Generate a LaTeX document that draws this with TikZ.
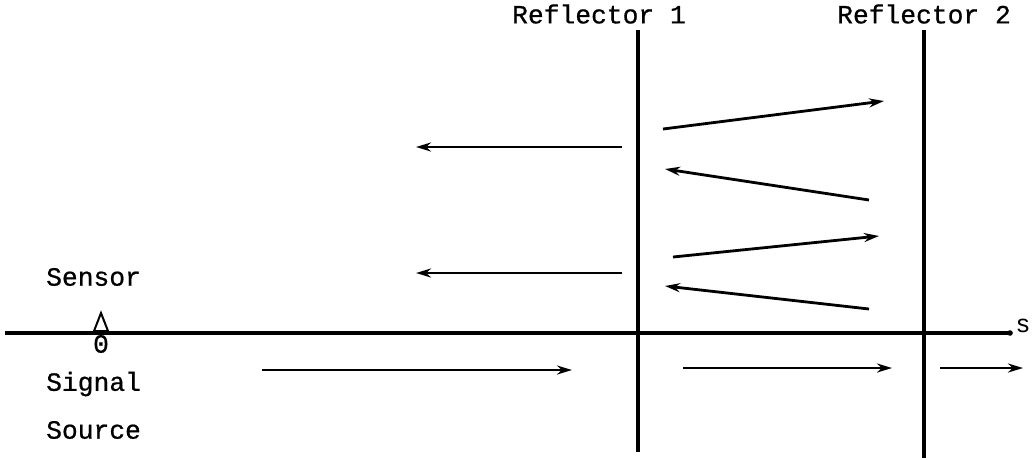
\documentclass[tikz,border=0pt]{standalone}
\usepackage{fontspec}
\newfontfamily\monof[FakeBold=0.7]{Liberation Mono}
\newfontfamily\sansf{Liberation Sans}
\usetikzlibrary{arrows.meta}
\begin{document}
\begin{tikzpicture}[x=1pt,y=-1pt,
  lbl/.style={font=\monof\fontsize{26.3}{28}\selectfont, inner sep=0pt},
  wave/.style={line width=2.8pt, -{Stealth[length=15pt,width=9pt]}},
  refl/.style={line width=3.8pt},
  axisline/.style={line width=3.2pt}]
\useasboundingbox (0,0) rectangle (1032,459);
% axis
\coordinate (a0) at (5,333);
\coordinate (a1) at (1010,333);
\draw[axisline] (a0) -- (a1);
\fill (a1) circle (2.8pt);
\node[font=\sansf\fontsize{25}{26}\selectfont, inner sep=0pt] (s) at (1023,326) {s};
% sensor
\coordinate (tA) at (101,313);
\coordinate (tB) at (94,331);
\coordinate (tC) at (108,331);
\draw[line width=2pt, line join=miter] (tA) -- (tB) -- (tC) -- cycle;
\node[lbl] (zero) at (101,344) {0};
\node[lbl, anchor=west] (sensor) at (46,277) {Sensor};
\node[lbl, anchor=west] (signal) at (46,384) {Signal};
\node[lbl, anchor=west] (source) at (46,430) {Source};
% reflectors
\node[lbl, anchor=west] (r1) at (512,14) {Reflector 1};
\node[lbl, anchor=west] (r2) at (837,14) {Reflector 2};
\coordinate (r1t) at (638,30);
\coordinate (r1b) at (638,452);
\coordinate (r2t) at (924,30);
\coordinate (r2b) at (924,458);
\draw[refl] (r1t) -- (r1b);
\draw[refl] (r2t) -- (r2b);
% returning waves to sensor
\coordinate (l1s) at (622,147); \coordinate (l1e) at (416,147);
\coordinate (l2s) at (622,273); \coordinate (l2e) at (416,273);
\draw[wave] (l1s) -- (l1e);
\draw[wave] (l2s) -- (l2e);
% multiple reflections
\coordinate (m1s) at (663,129); \coordinate (m1e) at (884,101);
\coordinate (m2s) at (869,200); \coordinate (m2e) at (665,169);
\coordinate (m3s) at (673,257); \coordinate (m3e) at (879,236);
\coordinate (m4s) at (869,309); \coordinate (m4e) at (665,286);
\draw[wave] (m1s) -- (m1e);
\draw[wave] (m2s) -- (m2e);
\draw[wave] (m3s) -- (m3e);
\draw[wave] (m4s) -- (m4e);
% transmitted waves
\coordinate (b1s) at (262,370); \coordinate (b1e) at (572,370);
\coordinate (b2s) at (683,368); \coordinate (b2e) at (892,368);
\coordinate (b3s) at (940,368); \coordinate (b3e) at (1023,368);
\draw[wave] (b1s) -- (b1e);
\draw[wave] (b2s) -- (b2e);
\draw[wave] (b3s) -- (b3e);
\end{tikzpicture}
\end{document}
